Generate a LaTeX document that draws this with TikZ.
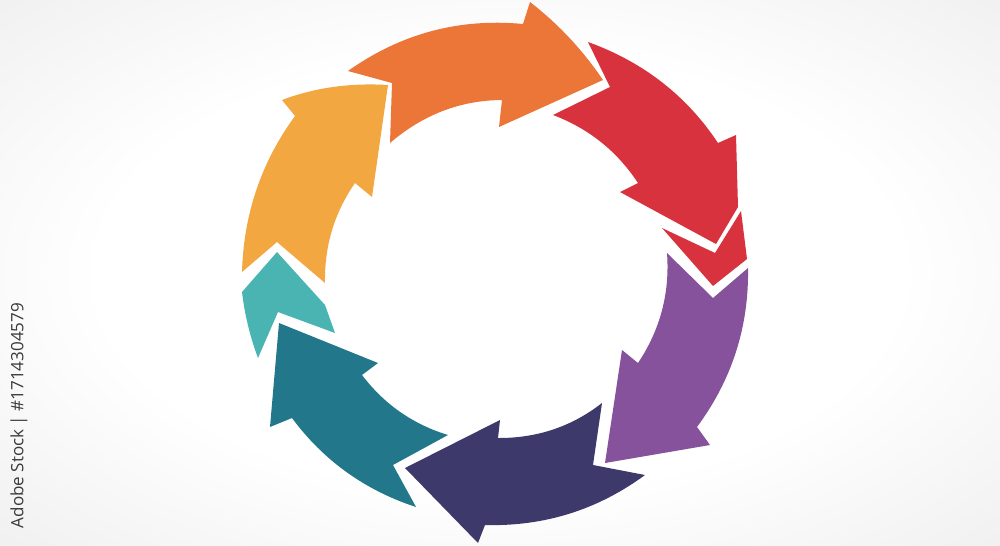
\documentclass[tikz,border=0pt]{standalone}
\usepackage{fontspec}
\usepackage{graphicx}
\usetikzlibrary{calc}
\newfontfamily\wmfont{Open Sans}
\definecolor{cyel}{HTML}{F3A741}
\definecolor{corg}{HTML}{EC7638}
\definecolor{cred}{HTML}{D8323E}
\definecolor{cpur}{HTML}{85529B}
\definecolor{cnavy}{HTML}{3D396A}
\definecolor{cteal}{HTML}{22788A}
\definecolor{cltl}{HTML}{4AB4B2}
\definecolor{cwm}{HTML}{3A3A3A}
\pgfdeclareradialshading{vign}{\pgfpoint{0bp}{0bp}}{color(0bp)=(white); color(20bp)=(white); color(50bp)=(black!11); color(72bp)=(black!17)}
\tikzset{
  piece/.style={draw=none},
  wmtext/.style={rotate=90, text=cwm, inner sep=0pt, font=\wmfont}
}
\begin{document}
\begin{tikzpicture}[x=0.01cm, y=-0.01cm]
\useasboundingbox (0,0) rectangle (1000,545);
\shade[shading=vign] (0,0) rectangle (1000,545);

% yellow-orange arrow
\fill[piece, cyel] (242,272)
  .. controls ($(242,272)!0.6667!(244.4,185.2)$) and ($(295,116)!0.6667!(244.4,185.2)$) .. (295,116)
  -- (282,100)
  .. controls ($(282,100)!0.6667!(331,81.5)$) and ($(388,85)!0.6667!(331,81.5)$) .. (388,85)
  -- (372,197) -- (355,183)
  .. controls ($(355,183)!0.6667!(324,227.6)$) and ($(325,283)!0.6667!(324,227.6)$) .. (325,283)
  -- (277,242) -- cycle;

% orange arrow
\fill[piece, corg] (348,71) -- (392,83) -- (390,143)
  .. controls ($(390,143)!0.6667!(439.4,100.5)$) and ($(502,100)!0.6667!(439.4,100.5)$) .. (502,100)
  -- (499,127) -- (603,80)
  .. controls ($(603,80)!0.6667!(572.5,35)$) and ($(530,2)!0.6667!(572.5,35)$) .. (530,2)
  -- (523,24)
  .. controls ($(523,24)!0.6667!(426.9,14.9)$) and ($(348,71)!0.6667!(426.9,14.9)$) .. (348,71) -- cycle;

% red arrow
\fill[piece, cred] (588,42)
  .. controls ($(588,42)!0.6667!(670.8,71.9)$) and ($(718,143)!0.6667!(670.8,71.9)$) .. (718,143)
  -- (736,135) -- (738,207) -- (716,244) -- (620,192) -- (638,183)
  .. controls ($(638,183)!0.6667!(606.5,135.2)$) and ($(553,115)!0.6667!(606.5,135.2)$) .. (553,115)
  -- (610,87) -- cycle;
% red chevron
\fill[piece, cred] (662,228) -- (715,253) -- (741,211) -- (747,259) -- (713,286) -- cycle;

% purple arrow
\fill[piece, cpur] (667,253) -- (713,298) -- (748,268)
  .. controls ($(748,268)!0.6667!(749.5,356)$) and ($(697,427)!0.6667!(749.5,356)$) .. (697,427)
  -- (710,445) -- (605,463) -- (622,350) -- (638,363)
  .. controls ($(638,363)!0.6667!(671.4,313)$) and ($(667,253)!0.6667!(671.4,313)$) .. (667,253) -- cycle;

% navy arrow
\fill[piece, cnavy] (405,468) -- (500,420) -- (498,438)
  .. controls ($(498,438)!0.6667!(556.8,438.3)$) and ($(602,403)!0.6667!(556.8,438.3)$) .. (602,403)
  -- (593,465) -- (645,475)
  .. controls ($(645,475)!0.6667!(573.6,527.4)$) and ($(485,525)!0.6667!(573.6,527.4)$) .. (485,525)
  -- (478,543) -- cycle;

% teal arrow
\fill[piece, cteal] (279,323) -- (378,363) -- (362,375)
  .. controls ($(362,375)!0.6667!(395.4,419)$) and ($(448,435)!0.6667!(395.4,419)$) .. (448,435)
  -- (393,465) -- (416,507)
  .. controls ($(416,507)!0.6667!(339.4,481.9)$) and ($(292,418)!0.6667!(339.4,481.9)$) .. (292,418)
  -- (270,427) -- cycle;

% light teal piece
\fill[piece, cltl] (277,252) -- (325,305) -- (335,333) -- (278,312) -- (258,358)
  .. controls ($(258,358)!0.6667!(246,325.8)$) and ($(242,292)!0.6667!(246,325.8)$) .. (242,292) -- cycle;

\node[wmtext] (wm) at (19,415.5) {\resizebox{2.25cm}{!}{Adobe Stock | \#1714304579}};
\end{tikzpicture}
\end{document}
